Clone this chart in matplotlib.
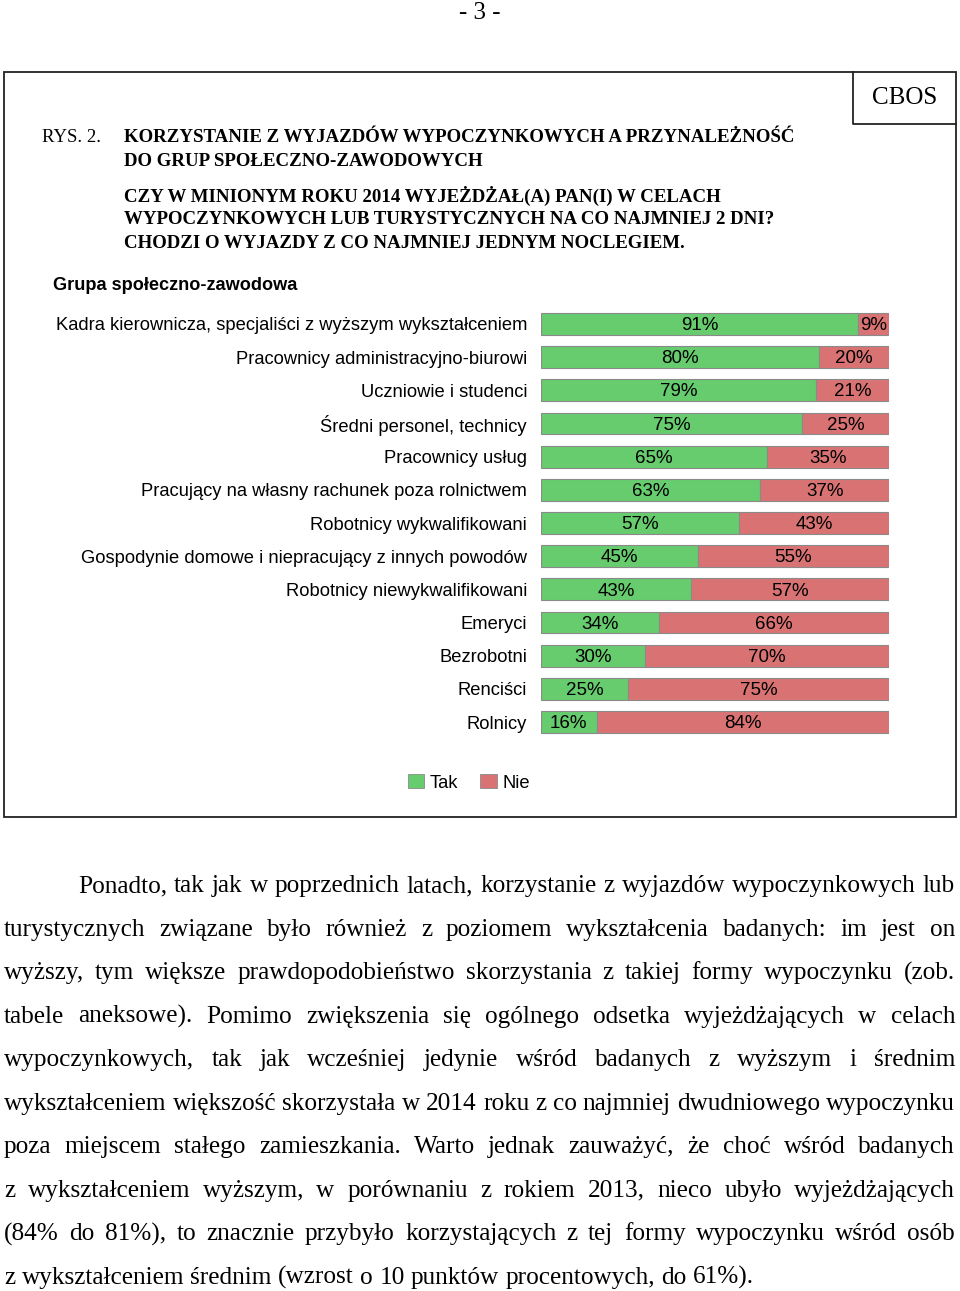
import matplotlib
matplotlib.use('Agg')
import matplotlib.pyplot as plt
from matplotlib.patches import Rectangle, Patch
from matplotlib.lines import Line2D

W, H = 960, 1291

groups = ['Kadra kierownicza, specjaliści z wyższym wykształceniem',
          'Pracownicy administracyjno-biurowi',
          'Uczniowie i studenci',
          'Średni personel, technicy',
          'Pracownicy usług',
          'Pracujący na własny rachunek poza rolnictwem',
          'Robotnicy wykwalifikowani',
          'Gospodynie domowe i niepracujący z innych powodów',
          'Robotnicy niewykwalifikowani',
          'Emeryci',
          'Bezrobotni',
          'Renciści',
          'Rolnicy']
tak = [91, 80, 79, 75, 65, 63, 57, 45, 43, 34, 30, 25, 16]
nie = [9, 20, 21, 25, 35, 37, 43, 55, 57, 66, 70, 75, 84]

c_tak = '#66CC6E'
c_nie = '#D97373'

title_lines = ['KORZYSTANIE Z WYJAZDÓW WYPOCZYNKOWYCH A PRZYNALEŻNOŚĆ',
               'DO GRUP SPOŁECZNO-ZAWODOWYCH']
question_lines = ['CZY W MINIONYM ROKU 2014 WYJEŻDŻAŁ(A) PAN(I) W CELACH',
                  'WYPOCZYNKOWYCH LUB TURYSTYCZNYCH NA CO NAJMNIEJ 2 DNI?',
                  'CHODZI O WYJAZDY Z CO NAJMNIEJ JEDNYM NOCLEGIEM.']

para_lines = ['Ponadto, tak jak w poprzednich latach, korzystanie z wyjazdów wypoczynkowych lub',
              'turystycznych związane było również z poziomem wykształcenia badanych: im jest on',
              'wyższy, tym większe prawdopodobieństwo skorzystania z takiej formy wypoczynku (zob.',
              'tabele aneksowe). Pomimo zwiększenia się ogólnego odsetka wyjeżdżających w celach',
              'wypoczynkowych, tak jak wcześniej jedynie wśród badanych z wyższym i średnim',
              'wykształceniem większość skorzystała w 2014 roku z co najmniej dwudniowego wypoczynku',
              'poza miejscem stałego zamieszkania. Warto jednak zauważyć, że choć wśród badanych',
              'z wykształceniem wyższym, w porównaniu z rokiem 2013, nieco ubyło wyjeżdżających',
              '(84% do 81%), to znacznie przybyło korzystających z tej formy wypoczynku wśród osób',
              'z wykształceniem średnim (wzrost o 10 punktów procentowych, do 61%).']


def fx(x):
    return x / W


def fy(y):
    return 1 - y / H


fig = plt.figure(figsize=(W / 100, H / 100), dpi=100)
serif = 'Liberation Serif'
sans = 'Liberation Sans'
lsize = 13.25

# page number
fig.text(fx(480), fy(13), '- 3 -', family=serif, fontsize=18, ha='center', va='center')

# frame and CBOS box
fig.patches.append(Rectangle((fx(4), fy(817)), fx(952), (817 - 72) / H, transform=fig.transFigure,
                             fill=False, edgecolor='#222222', linewidth=1.3))
fig.lines.append(Line2D([fx(853), fx(853), fx(956)], [fy(72), fy(124), fy(124)],
                        transform=fig.transFigure, color='#222222', linewidth=1.3))
fig.text(fx(905), fy(98), 'CBOS', family=serif, fontsize=18, ha='center', va='center')

# title
fig.text(fx(42), fy(137), 'RYS. 2.', family=serif, fontsize=13.5, ha='left', va='center')
for i, t in enumerate(title_lines):
    fig.text(fx(124), fy(137 + 24 * i), t, family=serif, fontsize=13.6, weight='bold',
             ha='left', va='center')
for i, t in enumerate(question_lines):
    fig.text(fx(124), fy(196 + 23.5 * i), t, family=serif, fontsize=13.6, weight='bold',
             ha='left', va='center')

fig.text(fx(53), fy(285), 'Grupa społeczno-zawodowa', family=sans, fontsize=13.1,
         weight='bold', ha='left', va='center')

# chart
step = 33.17
top = 324 - step / 2
ax = fig.add_axes([fx(541), fy(top + 13 * step), 348 / W, 13 * step / H])
y = list(range(len(groups)))
ax.barh(y, tak, height=0.66, color=c_tak, edgecolor='#8a8a8a', linewidth=0.8, label='Tak')
ax.barh(y, nie, left=tak, height=0.66, color=c_nie, edgecolor='#8a8a8a', linewidth=0.8, label='Nie')
for i in y:
    ax.text(tak[i] / 2, i + 0.05, f'{tak[i]}%', ha='center', va='center', family=sans, fontsize=13.5)
    ax.text(tak[i] + nie[i] / 2, i + 0.05, f'{nie[i]}%', ha='center', va='center', family=sans,
            fontsize=13.5)
ax.set_xlim(0, 100)
ax.set_ylim(len(groups) - 0.5, -0.5)
ax.set_yticks(y)
ax.set_yticklabels(groups, family=sans, fontsize=lsize)
ax.tick_params(axis='y', length=0, pad=10)
ax.set_xticks([])
for s in ax.spines.values():
    s.set_visible(False)

handles = [Patch(facecolor=c_tak, edgecolor='#8a8a8a', linewidth=0.6, label='Tak'),
           Patch(facecolor=c_nie, edgecolor='#8a8a8a', linewidth=0.6, label='Nie')]
fig.legend(handles=handles, loc='center', bbox_to_anchor=(fx(469), fy(783)), ncol=2,
           frameon=False, handlelength=0.9, handleheight=0.75, handletextpad=0.3,
           columnspacing=1.2, prop={'family': sans, 'size': lsize})

# justified paragraph
renderer = fig.canvas.get_renderer()
psize = 18.2


def width_of(s):
    t = fig.text(0, 0, s, family=serif, fontsize=psize)
    w = t.get_window_extent(renderer=renderer).width
    t.remove()
    return w


space_w = width_of('a a') - width_of('aa')
left, right = 4, 955
for i, line in enumerate(para_lines):
    base = 892 + 43.55 * i
    x0 = 78 if i == 0 else left
    words = line.split()
    widths = [width_of(w) for w in words]
    if i == len(para_lines) - 1:
        gap = space_w
    else:
        gap = (right - x0 - sum(widths)) / (len(words) - 1)
    x = x0
    for wd, ww in zip(words, widths):
        fig.text(fx(x), fy(base), wd, family=serif, fontsize=psize, ha='left', va='baseline')
        x += ww + gap

fig.savefig('out.png', dpi=100)
